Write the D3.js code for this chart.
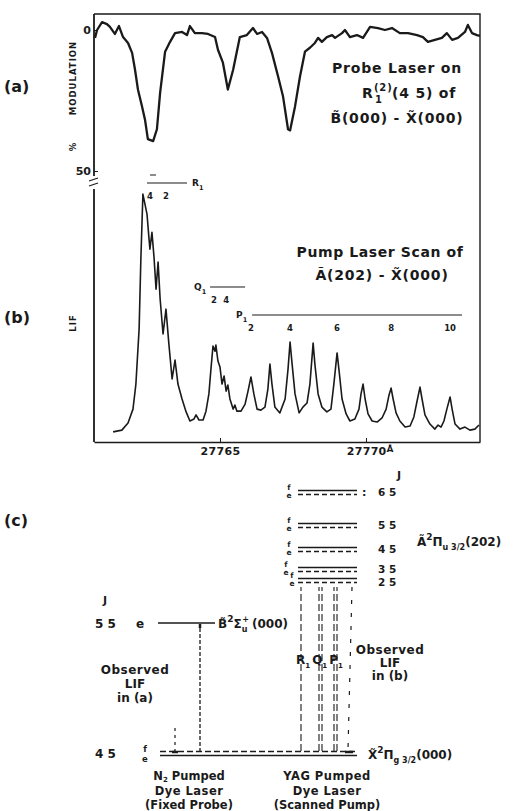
<!DOCTYPE html>
<html>
<head>
<meta charset="utf-8">
<script src="https://cdn.jsdelivr.net/npm/d3@7"></script>
<style>
  body { margin: 0; background: #fff; }
  svg { display: block; }
  svg text { font-family: "DejaVu Sans", "Liberation Sans", sans-serif; font-weight: bold; fill: #1a1a1a; }
</style>
</head>
<body>
<div id="fig"></div>
<script>
// ---- data ----
// wavelength axis (Angstrom)
const waveDomain = [27760.685, 27773.905];
const waveTicks = [27765, 27770];
const modTicks = [0, 50];

// (a) % modulation of the probe LIF vs pump wavelength  [wavelength, %]
const traceA = [
  [27760.72, 2.8], [27760.79, 0.0], [27760.96, -2.8], [27761.13, -2.1], [27761.23, -1.1],
  [27761.40, 1.4], [27761.54, -1.4], [27761.68, 2.5], [27761.85, 4.6], [27761.99, 8.1],
  [27762.09, 14.1], [27762.19, 21.1], [27762.33, 27.1], [27762.43, 31.7], [27762.53, 38.7],
  [27762.71, 39.4], [27762.84, 35.2], [27762.95, 22.2], [27763.12, 7.7], [27763.29, 4.2],
  [27763.46, 1.1], [27763.70, 0.7], [27763.87, 1.8], [27763.97, -1.4], [27764.14, 1.1],
  [27764.38, 1.1], [27764.59, 1.4], [27764.83, 2.5], [27764.93, 7.0], [27765.10, 11.6],
  [27765.27, 21.1], [27765.45, 14.1], [27765.68, 2.5], [27765.92, 1.8], [27766.13, -0.7],
  [27766.27, 1.4], [27766.44, 0.7], [27766.61, 2.8], [27766.78, 8.1], [27766.99, 16.5],
  [27767.16, 23.6], [27767.33, 35.2], [27767.40, 35.6], [27767.57, 27.1], [27767.74, 16.5],
  [27767.91, 7.7], [27768.08, 6.3], [27768.25, 4.6], [27768.36, 2.8], [27768.49, 4.2],
  [27768.66, 2.5], [27768.84, 1.8], [27768.94, 2.8], [27769.18, 1.1], [27769.28, 0.0],
  [27769.45, 2.5], [27769.69, 1.8], [27769.90, 2.8], [27770.14, -1.1], [27770.41, -0.7],
  [27770.65, 0.0], [27770.89, -0.7], [27771.16, 1.1], [27771.44, 1.1], [27771.75, 1.8],
  [27771.95, 2.5], [27772.12, 4.2], [27772.36, 3.5], [27772.60, 2.8], [27772.77, 1.1],
  [27772.95, 3.5], [27773.15, 2.8], [27773.39, 0.7], [27773.49, -1.8], [27773.63, 1.1],
  [27773.80, 1.8], [27773.90, 2.1]
];

// (b) LIF of the pump scan, arbitrary units 0-100  [wavelength, LIF]
const traceB = [
  [27761.34, 4.0], [27761.64, 4.7], [27761.85, 7.5], [27762.02, 13.0], [27762.12, 22.9],
  [27762.23, 44.6], [27762.29, 72.3], [27762.36, 98.0], [27762.43, 94.0], [27762.50, 90.1],
  [27762.57, 80.2], [27762.60, 76.2], [27762.67, 82.9], [27762.74, 73.1], [27762.81, 60.4],
  [27762.88, 71.1], [27762.95, 56.5], [27763.05, 42.7], [27763.15, 52.5], [27763.25, 38.7],
  [27763.36, 24.9], [27763.46, 32.4], [27763.56, 22.9], [27763.70, 17.0], [27763.84, 11.9],
  [27763.97, 8.3], [27764.11, 9.1], [27764.18, 10.7], [27764.28, 8.7], [27764.42, 8.7],
  [27764.52, 12.2], [27764.62, 19.0], [27764.69, 28.8], [27764.76, 37.9], [27764.83, 35.9],
  [27764.86, 38.3], [27764.93, 32.0], [27765.00, 29.6], [27765.07, 22.9], [27765.14, 26.1],
  [27765.21, 20.1], [27765.27, 22.5], [27765.34, 17.0], [27765.45, 13.0], [27765.51, 14.6],
  [27765.58, 12.2], [27765.72, 12.2], [27765.86, 15.0], [27765.96, 20.1], [27766.06, 25.7],
  [27766.16, 19.0], [27766.27, 13.0], [27766.40, 12.6], [27766.54, 13.8], [27766.64, 20.9],
  [27766.71, 30.8], [27766.78, 22.9], [27766.88, 13.8], [27767.05, 11.5], [27767.23, 17.0],
  [27767.33, 28.8], [27767.40, 39.5], [27767.47, 30.8], [27767.57, 19.0], [27767.71, 11.5],
  [27767.84, 13.8], [27767.98, 15.4], [27768.08, 22.9], [27768.19, 39.1], [27768.25, 30.8],
  [27768.36, 19.0], [27768.49, 13.8], [27768.66, 11.9], [27768.80, 13.0], [27768.90, 22.9],
  [27769.01, 35.2], [27769.08, 28.0], [27769.18, 17.0], [27769.32, 11.1], [27769.45, 8.3],
  [27769.62, 9.1], [27769.76, 13.0], [27769.83, 19.0], [27769.90, 22.9], [27769.97, 17.0],
  [27770.07, 11.1], [27770.21, 8.3], [27770.38, 7.9], [27770.55, 9.5], [27770.69, 13.0],
  [27770.79, 18.6], [27770.86, 21.3], [27770.93, 17.0], [27771.03, 11.5], [27771.16, 8.3],
  [27771.34, 5.9], [27771.51, 6.3], [27771.64, 9.9], [27771.75, 16.2], [27771.85, 21.7],
  [27771.92, 17.0], [27772.02, 10.7], [27772.19, 7.1], [27772.36, 5.1], [27772.47, 6.7],
  [27772.57, 5.9], [27772.67, 8.3], [27772.77, 13.0], [27772.88, 17.8], [27772.95, 13.0],
  [27773.05, 7.1], [27773.22, 5.1], [27773.39, 5.9], [27773.56, 4.7], [27773.73, 5.1],
  [27773.87, 6.7]
];

// rotational branch assignments in (b)
const rBar = [27762.50, 27763.87];
const rLabels = [{j: "4", w: 27762.60}, {j: "2", w: 27763.15}];
const qBar = [27764.66, 27765.86];
const qLabels = [{j: "2", w: 27764.79}, {j: "4", w: 27765.21}];
const pBar = [27766.10, 27773.29];
const pLabels = [{j: "2", w: 27766.06}, {j: "4", w: 27767.40}, {j: "6", w: 27769.01},
                 {j: "8", w: 27770.86}, {j: "10", w: 27772.88}];

// (c) level diagram, schematic term energies (arb.)
const upperJ = ["6 5", "5 5", "4 5", "3 5", "2 5"];
const upperE = [95.6, 83.6, 74.8, 67.5, 63.5];
const bJ = "5 5", bE = 47.8;
const lowerJ = "4 5", lowerE = 0;
const pumpBranch = ["R", "Q", "P"];

// ---- layout ----
const W = 518, H = 811;
const svg = d3.select("#fig").append("svg").attr("width", W).attr("height", H);
const ink = "#1a1a1a";

const x = d3.scaleLinear().domain(waveDomain).range([94, 480]);
const yA = d3.scaleLinear().domain([0, 50]).range([30, 171]);
const yB = d3.scaleLinear().domain([0, 100]).range([442, 189]);
const yC = d3.scaleLinear().domain([0, 100]).range([754, 480]);

function label(px, py, str, size, anchor) {
  return svg.append("text")
    .attr("x", px).attr("y", py)
    .attr("font-size", size)
    .attr("text-anchor", anchor || "start")
    .text(str);
}
function seg(x1, y1, x2, y2, w, dash) {
  return svg.append("line")
    .attr("x1", x1).attr("y1", y1).attr("x2", x2).attr("y2", y2)
    .attr("stroke", ink).attr("stroke-width", w || 1.4)
    .attr("stroke-dasharray", dash || null);
}

// frame: top, right, left axis with a break between (a) and (b)
const [x0, x1] = x.range();
svg.append("path")
  .attr("d", `M${x0},14H${x1}V${yB(0)}`)
  .attr("fill", "none").attr("stroke", ink).attr("stroke-width", 1.4);
seg(x0, 14, x0, yA(50) + 5, 1.8);
seg(x0, yB.range()[1], x0, yB(0), 1.8);
seg(x0 - 5, yA(50) + 10, x0 + 4, yA(50) + 7, 1.2);
seg(x0 - 5, yA(50) + 15, x0 + 4, yA(50) + 12, 1.2);

// (a) y ticks
svg.append("g")
  .attr("transform", `translate(${x0},0)`)
  .style("color", ink)
  .call(d3.axisLeft(yA).tickValues(modTicks).tickSize(-4).tickSizeOuter(0).tickPadding(3))
  .call(g => g.select(".domain").remove())
  .call(g => g.selectAll("text").attr("font-size", 11));

// (b) wavelength axis
const xAxis = svg.append("g")
  .attr("transform", `translate(0,${yB(0)})`)
  .style("color", ink)
  .call(d3.axisBottom(x).tickValues(waveTicks).tickSize(-4).tickSizeOuter(0)
    .tickPadding(5).tickFormat(d3.format("d")))
  .call(g => g.select(".domain").attr("stroke-width", 1.6))
  .call(g => g.selectAll("text").attr("font-size", 11).attr("letter-spacing", 0.3));
xAxis.selectAll(".tick text").filter(d => d === 27770)
  .attr("dx", "0.35em")
  .append("tspan").attr("dy", -3).attr("font-size", 9).text("Å");

// traces
svg.append("path").datum(traceA)
  .attr("d", d3.line().x(d => x(d[0])).y(d => yA(d[1])))
  .attr("fill", "none").attr("stroke", ink).attr("stroke-width", 2.3)
  .attr("stroke-linejoin", "round");
svg.append("path").datum(traceB)
  .attr("d", d3.line().x(d => x(d[0])).y(d => yB(d[1])))
  .attr("fill", "none").attr("stroke", ink).attr("stroke-width", 1.6)
  .attr("stroke-linejoin", "round");

// axis titles and panel letters
label(0, 0, "MODULATION", 8.5, "middle").attr("letter-spacing", 1)
  .attr("transform", "translate(76,78) rotate(-90)");
label(0, 0, "%", 8.5, "middle").attr("transform", "translate(76,147) rotate(-90)");
label(0, 0, "LIF", 8.5, "middle").attr("letter-spacing", 1)
  .attr("transform", "translate(76,323) rotate(-90)");
label(4, 92, "(a)", 16);
label(4, 323, "(b)", 16);
label(4, 526, "(c)", 16);

// (a) annotation
label(397, 73, "Probe Laser on", 14, "middle").attr("letter-spacing", 0.8);
const rt = svg.append("text").attr("x", 362).attr("y", 98).attr("font-size", 14).attr("letter-spacing", 0.8);
rt.append("tspan").text("R");
rt.append("tspan").attr("x", 374).attr("dy", -7).attr("font-size", 10).text("(2)");
rt.append("tspan").attr("x", 375).attr("dy", 12).attr("font-size", 10).text("1");
rt.append("tspan").attr("x", 392).attr("dy", -5).text("(4 5) of");
label(397, 123, "B\u0303(000) - X\u0303(000)", 14, "middle").attr("letter-spacing", 0.8);

// (b) annotation
label(380, 257, "Pump Laser Scan of", 14, "middle").attr("letter-spacing", 0.6);
label(382, 280, "A\u0303(202) - X\u0303(000)", 14, "middle").attr("letter-spacing", 0.8);

// branch bars and J labels
function branch(bar, labels, barY, name, nameX, nameAnchor, labY) {
  seg(x(bar[0]), barY, x(bar[1]), barY, 1.2);
  const t = label(nameX, barY + 3, name, 9, nameAnchor);
  t.append("tspan").attr("dy", 4).attr("font-size", 6.5).text("1");
  svg.selectAll(null).data(labels).join("text")
    .attr("x", d => x(d.w)).attr("y", labY)
    .attr("font-size", 8.5).attr("text-anchor", "middle")
    .text(d => d.j);
}
branch(rBar, rLabels, 183, "R", x(rBar[1]) + 5, "start", 199);
seg(x(rBar[0]) + 3, 175, x(rBar[0]) + 9, 175, 1);
branch(qBar, qLabels, 287, "Q", x(qBar[0]) - 16, "start", 303);
branch(pBar, pLabels, 315, "P", x(pBar[0]) - 16, "start", 331);

// ---- (c) energy levels ----
const upX = [298, 357];
upperJ.forEach((j, i) => {
  const yy = yC(upperE[i]);
  // parity letters: stagger the two crowded lowest levels sideways
  const lx = i === 3 ? 286 : i === 4 ? 292 : 289;
  seg(upX[0], yy - 1.5, upX[1], yy - 1.5, 1.5);
  seg(upX[0], yy + 2.5, upX[1], yy + 2.5, 1.5, "5,3");
  label(lx, yy - 2, "f", 7.5, "middle");
  label(lx, yy + 6, "e", 7.5, "middle");
  label(378, yy + 4 + (i === 4 ? 2 : 0), j, 10.5);
});
label(399, yC(upperE[0]) - 13, "J", 11, "middle");
label(362, yC(upperE[0]) + 4, ":", 11);

const at = label(417, 546, "A\u0303", 12);
at.append("tspan").attr("dy", -6).attr("font-size", 9).text("2");
at.append("tspan").attr("dy", 6).text("Π");
at.append("tspan").attr("dy", 4).attr("font-size", 8).text("u 3/2");
at.append("tspan").attr("dy", -4).text("(202)");

// B state
const yBs = yC(bE);
seg(158, yBs, 215, yBs, 1.5);
label(105, yBs - 19, "J", 11, "middle");
label(95, yBs + 5, bJ, 12);
label(140, yBs + 5, "e", 12, "middle");
const bt = label(218, yBs + 5, "B\u0303", 12);
bt.append("tspan").attr("dy", -6).attr("font-size", 9).text("2");
bt.append("tspan").attr("dy", 6).text("Σ");
bt.append("tspan").attr("dy", 4).attr("font-size", 8).text("u");
bt.append("tspan").attr("dy", -10).attr("dx", -5).attr("font-size", 8).text("+");
bt.append("tspan").attr("dy", 6).attr("dx", 3).text("(000)");

// X state
const yX = yC(lowerE);
seg(160, yX - 2.5, 357, yX - 2.5, 1.5, "6,3");
seg(160, yX + 1.5, 357, yX + 1.5, 1.6);
label(95, yX + 4, lowerJ, 12);
label(145, yX - 2, "f", 8.5, "middle");
label(145, yX + 8, "e", 8.5, "middle");
const xt = label(368, yX + 5, "X\u0303", 12);
xt.append("tspan").attr("dy", -6).attr("font-size", 9).text("2");
xt.append("tspan").attr("dy", 6).text("Π");
xt.append("tspan").attr("dy", 4).attr("font-size", 8).text("g 3/2");
xt.append("tspan").attr("dy", -4).text("(000)");

// probe (N2 laser) and its fluorescence
seg(200, yX - 2, 200, yBs + 2, 1.3, "4,2");
seg(175, yC(9.5), 175, yX - 3, 1.2, "3,4");
seg(172, yX - 2, 178, yX - 2, 2.5);
seg(200, yBs + 1, 200, yBs + 5, 2.5);

// pump (YAG) transitions R, Q, P, drawn up to the bottom of the upper stack
const pumpX = {R: [301], Q: [319, 322], P: [334, 337]};
const stackBottom = yC(upperE[upperE.length - 1]) + 7;
pumpBranch.forEach(b => {
  pumpX[b].forEach(px => seg(px, yX - 3, px, stackBottom, 1.1, "7,3"));
});
seg(352, stackBottom, 348, yX - 4, 1.2, "4,9");
seg(345, yX - 2, 353, yX - 2, 2.5);
const rq = label(296, 664, "R", 12);
rq.append("tspan").attr("dy", 4).attr("font-size", 7).text("1");
rq.append("tspan").attr("dy", -4).attr("dx", 2).text("Q");
rq.append("tspan").attr("dy", 4).attr("font-size", 7).text("1");
rq.append("tspan").attr("dy", -4).attr("dx", 2).text("P");
rq.append("tspan").attr("dy", 4).attr("font-size", 7).text("1");

// observed LIF notes
label(135, 674, "Observed", 12, "middle").attr("letter-spacing", 0.5);
label(135, 688, "LIF", 12, "middle");
label(135, 702, "in (a)", 12, "middle");
label(390, 654, "Observed", 12, "middle").attr("letter-spacing", 0.5);
label(390, 667, "LIF", 12, "middle");
label(390, 680, "in (b)", 12, "middle");

// lasers
const n2 = label(189, 780, "N", 11.5, "middle");
n2.append("tspan").attr("dy", 2).attr("font-size", 7).text("2");
n2.append("tspan").attr("dy", -2).text(" Pumped");
label(189, 795, "Dye Laser", 11.5, "middle").attr("letter-spacing", 0.5);
label(189, 809, "(Fixed Probe)", 11.5, "middle");
label(327, 780, "YAG Pumped", 11.5, "middle").attr("letter-spacing", 0.5);
label(327, 795, "Dye Laser", 11.5, "middle").attr("letter-spacing", 0.5);
label(327, 809, "(Scanned Pump)", 11.5, "middle");
</script>
</body>
</html>
